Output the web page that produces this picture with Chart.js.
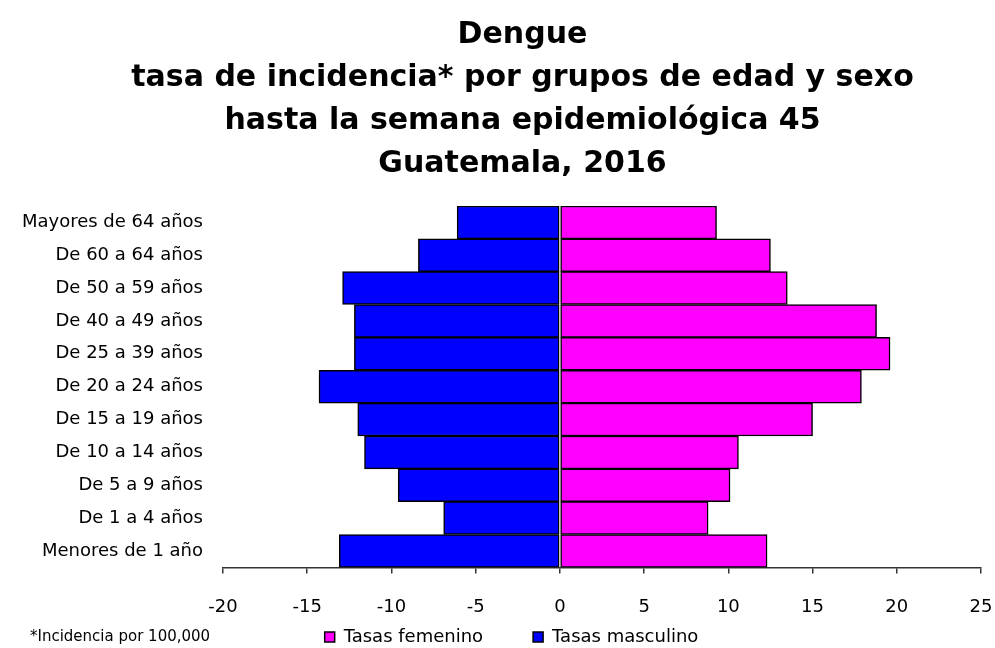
<!DOCTYPE html>
<html>
<head>
<meta charset="utf-8">
<script src="https://cdn.jsdelivr.net/npm/chart.js@4.4.1/dist/chart.umd.min.js"></script>
<style>
  html, body { margin: 0; padding: 0; background: #fff; }
  #wrap { width: 995px; height: 648px; }
</style>
</head>
<body>
<div id="wrap"><canvas id="chartPiramide"></canvas></div>
<script>
// grupos de edad, de mayor a menor (orden en que se dibujan de arriba hacia abajo)
const grupos = [
  'Mayores de 64 años', 'De 60 a 64 años', 'De 50 a 59 años', 'De 40 a 49 años',
  'De 25 a 39 años', 'De 20 a 24 años', 'De 15 a 19 años', 'De 10 a 14 años',
  'De 5 a 9 años', 'De 1 a 4 años', 'Menores de 1 año'
];

// tasas por 100,000 habitantes
const tasasFemenino = [9.3, 12.5, 13.5, 18.8, 19.6, 17.9, 15.0, 10.6, 10.1, 8.8, 12.3];
const tasasMasculino = [6.1, 8.4, 12.9, 12.2, 12.2, 14.3, 12.0, 11.6, 9.6, 6.9, 13.1];

const titulo = [
  'Dengue',
  'tasa de incidencia* por grupos de edad y sexo',
  'hasta la semana epidemiológica 45',
  'Guatemala, 2016'
];
const nota = '*Incidencia por 100,000';

const ejeMin = -20;
const ejeMax = 25;
const ejePaso = 5;

const fuente = "'DejaVu Sans', 'Open Sans', sans-serif";
const yLeyenda = 637;       // centro vertical de la fila de leyenda
const sepLeyenda = 50;      // separacion entre elementos de la leyenda
const tamLeyenda = 18;

// titulo y leyenda centrados algo a la derecha; la leyenda ocupa casi nada en el layout
const centrarBloques = {
  id: 'centrarBloques',
  afterLayout(chart) {
    const t = chart.titleBlock;
    t.left = 50; t.right = 995; t.width = t.right - t.left;
    const lg = chart.legend;
    lg.left = 30; lg.right = 993; lg.width = lg.right - lg.left;
    lg.top = yLeyenda - sepLeyenda - tamLeyenda / 2;
    lg.bottom = chart.height; lg.height = lg.bottom - lg.top;
  }
};

// nota al pie a la izquierda de la leyenda
const notaPlugin = {
  id: 'notaPie',
  afterDraw(chart) {
    const ctx = chart.ctx;
    ctx.save();
    ctx.font = "15px " + fuente;
    ctx.fillStyle = '#000';
    ctx.textBaseline = 'middle';
    ctx.textAlign = 'left';
    ctx.fillText(nota, 30, yLeyenda);
    ctx.restore();
  }
};

const ctx = document.getElementById('chartPiramide').getContext('2d');
new Chart(ctx, {
  type: 'bar',
  data: {
    labels: grupos,
    datasets: [{
      label: 'Tasas femenino',
      data: tasasFemenino,
      backgroundColor: '#FF00FF',
      borderColor: '#000',
      borderWidth: 1.5,
      borderSkipped: false,
      barPercentage: 1,
      categoryPercentage: 1
    }, {
      label: 'Tasas masculino',
      data: tasasMasculino.map(v => -v),
      backgroundColor: '#0000FF',
      borderColor: '#000',
      borderWidth: 1.5,
      borderSkipped: false,
      barPercentage: 1,
      categoryPercentage: 1
    }]
  },
  options: {
    indexAxis: 'y',
    responsive: true,
    maintainAspectRatio: false,
    animation: false,
    layout: { padding: { left: 10, right: 0, top: 0, bottom: 6 } },
    plugins: {
      title: {
        display: true,
        text: titulo,
        color: '#000',
        font: { family: fuente, size: 30, weight: 'bold', lineHeight: 1.433 },
        padding: { top: 14, bottom: 20 }
      },
      legend: {
        position: 'bottom',
        maxHeight: 1,
        labels: {
          color: '#000',
          font: { family: fuente, size: tamLeyenda },
          boxWidth: 10,
          boxHeight: 10,
          padding: sepLeyenda
        }
      },
      tooltip: { enabled: false }
    },
    scales: {
      x: {
        stacked: true,
        min: ejeMin,
        max: ejeMax,
        border: { display: true, color: '#333', width: 1.5 },
        grid: { drawOnChartArea: false, color: '#333', tickLength: 6, lineWidth: 1.5 },
        ticks: {
          stepSize: ejePaso,
          color: '#000',
          padding: 23,
          font: { family: fuente, size: 18 }
        },
        // el padding de las etiquetas no debe empujar el borde derecho
        afterFit(scale) { scale.paddingRight = 14; }
      },
      y: {
        stacked: true,
        border: { display: false },
        grid: { display: false, drawTicks: false },
        ticks: {
          color: '#000',
          padding: 20,
          font: { family: fuente, size: 18 }
        },
        afterFit(scale) { scale.width = 213; }
      }
    }
  },
  plugins: [centrarBloques, notaPlugin]
});
</script>
</body>
</html>
